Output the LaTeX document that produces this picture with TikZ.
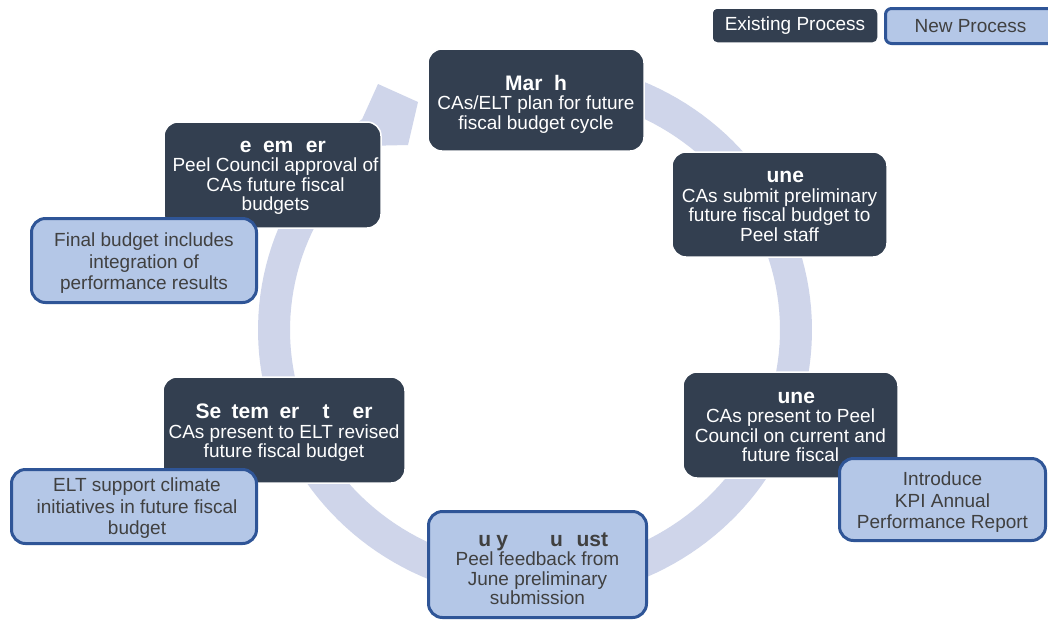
\documentclass[tikz,border=0pt]{standalone}
\usepackage{fontspec}
\setmainfont{Liberation Sans}
\definecolor{darkc}{HTML}{333F50}
\definecolor{lightc}{HTML}{B4C7E7}
\definecolor{borderc}{HTML}{2F5597}
\definecolor{lavc}{HTML}{CFD5EA}
\definecolor{grayc}{HTML}{404040}
\newcommand\mybody{\fontsize{19}{19.5}\selectfont}
\newcommand\mylight{\fontsize{19}{21.5}\selectfont}
\newcommand\mytitle{\fontsize{21}{19.5}\selectfont\bfseries}
\begin{document}
\begin{tikzpicture}[x=1pt,y=-1pt,
  darkbox/.style={fill=darkc, draw=white, line width=1.5pt, rounded corners=14pt, inner sep=0pt},
  lightbox/.style={fill=lightc, draw=borderc, line width=3pt, rounded corners=14pt, inner sep=0pt},
  darktext/.style={text=white, align=center, inner sep=0pt, font=\mybody},
  lighttext/.style={text=grayc, align=center, inner sep=0pt, font=\mylight},
  legdark/.style={darkbox, rounded corners=5pt, text=white, font=\mybody},
  leglight/.style={lightbox, rounded corners=6pt, text=grayc, font=\mybody}]
\useasboundingbox (0,0) rectangle (1048,622);
\clip (0,0) rectangle (1048,622);
\fill[white] (0,0) rectangle (1048,622);
% circular arrow band
\fill[lavc] plot[domain=-80:231.4, samples=150] ({535+277*cos(\x)},{330+270*sin(\x)})
  -- (378,84) -- (418,102) -- (408,145)
  -- plot[domain=231.4:-80, samples=150] ({535+245*cos(\x)},{330+236*sin(\x)}) -- cycle;
% existing process boxes
\node[darkbox, minimum width=216pt, minimum height=102pt] (march) at (536,100) {};
\node[darkbox, minimum width=217pt, minimum height=106pt] (dec) at (272.5,175) {};
\node[darkbox, minimum width=215pt, minimum height=105pt] (june1) at (779.5,204.5) {};
\node[darkbox, minimum width=215pt, minimum height=106pt] (june2) at (790.5,425) {};
\node[darkbox, minimum width=242pt, minimum height=106pt] (sept) at (284,430) {};
\node[darktext] (marcht) at ([yshift=-4pt]march.center)
  {{\mytitle Mar\hspace{0.55em}h}\\CAs/ELT plan for future\\fiscal budget cycle};
\node[darktext] (dect) at ([yshift=-3pt,xshift=3pt]dec.center)
  {{\mytitle\hspace*{0.7em}e\hspace{0.55em}em\hspace{0.6em}er}\\Peel Council approval of\\CAs future fiscal\\budgets};
\node[darktext] (june1t) at ([yshift=-2pt]june1.center)
  {{\mytitle\hspace*{0.55em}une}\\CAs submit preliminary\\future fiscal budget to\\Peel staff};
\node[darktext] (june2t) at ([yshift=-2pt]june2.center)
  {{\mytitle\hspace*{0.55em}une}\\CAs present to Peel\\Council on current and\\future fiscal};
\node[darktext] (septt) at ([yshift=-3pt]sept.center)
  {{\mytitle Se\hspace{0.5em}tem\hspace{0.5em}er\hspace{1.1em}t\hspace{1.1em}er}\\CAs present to ELT revised\\future fiscal budget};
% new process boxes
\node[lightbox, minimum width=218pt, minimum height=106pt] (july) at (537.5,564.5) {};
\node[lightbox, minimum width=225pt, minimum height=84pt] (final) at (144,260.5) {};
\node[lightbox, minimum width=206pt, minimum height=82pt] (kpi) at (942.5,499.5) {};
\node[lightbox, minimum width=245pt, minimum height=74pt] (elt) at (134,506.5) {};
\node[lighttext, font=\mybody] (julyt) at ([yshift=-4pt]july.center)
  {{\mytitle\hspace*{0.55em}u\hspace{0.25em}y\hspace{2em}u\hspace{0.65em}ust}\\Peel feedback from\\June preliminary\\submission};
\node[lighttext] (finalt) at ([yshift=-3pt]final.center)
  {Final budget includes\\integration of\\performance results};
\node[lighttext] (kpit) at ([yshift=-3pt]kpi.center)
  {Introduce\\KPI Annual\\Performance Report};
\node[lighttext] (eltt) at ([yshift=-2pt,xshift=3pt]elt.center)
  {ELT support climate\\initiatives in future fiscal\\budget};
% legend
\node[legdark, minimum width=166pt, minimum height=35pt] (legexist) at (795,25.5) {Existing Process};
\node[leglight, minimum width=170pt, minimum height=35pt] (legnew) at (970.5,26) {New Process};
\end{tikzpicture}
\end{document}
